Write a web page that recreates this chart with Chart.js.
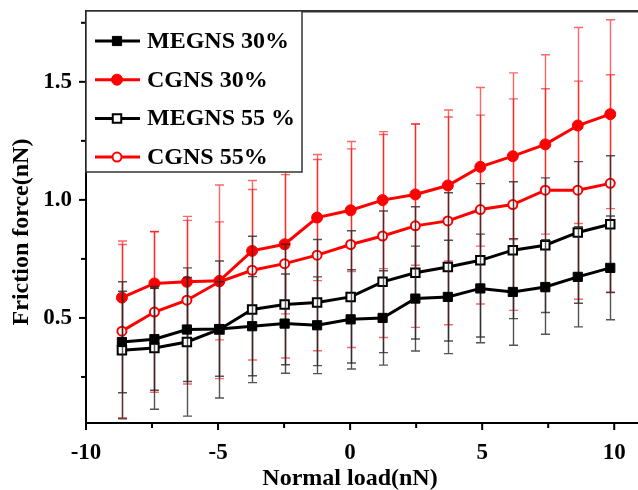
<!DOCTYPE html>
<html>
<head>
<meta charset="utf-8">
<script src="https://cdn.jsdelivr.net/npm/chart.js@4.4.0/dist/chart.umd.min.js"></script>
<style>
  html, body { margin: 0; padding: 0; background: #fff; }
</style>
</head>
<body>
<canvas id="frictionChart" width="638" height="490"></canvas>
<script>
// Normal load (nN) at each measurement
const loads = [-8.64, -7.41, -6.18, -4.95, -3.71, -2.48, -1.25, 0.02, 1.23, 2.47, 3.70, 4.93, 6.16, 7.39, 8.62, 9.85];

// Friction force (nN) and standard deviations
const megns30 = [0.398, 0.410, 0.451, 0.453, 0.465, 0.476, 0.469, 0.494, 0.500, 0.582, 0.589, 0.625, 0.610, 0.631, 0.674, 0.712];
const megns30Err = [0.215, 0.216, 0.220, 0.200, 0.210, 0.210, 0.205, 0.210, 0.200, 0.222, 0.240, 0.230, 0.226, 0.200, 0.212, 0.220];

const cgns30 = [0.586, 0.646, 0.653, 0.657, 0.784, 0.812, 0.925, 0.956, 0.999, 1.023, 1.061, 1.140, 1.185, 1.235, 1.315, 1.363];
const cgns30Err = [0.240, 0.220, 0.260, 0.250, 0.260, 0.295, 0.267, 0.260, 0.290, 0.300, 0.320, 0.336, 0.353, 0.380, 0.415, 0.400];

const megns55 = [0.363, 0.373, 0.398, 0.451, 0.536, 0.557, 0.565, 0.589, 0.653, 0.691, 0.716, 0.744, 0.787, 0.808, 0.862, 0.897];
const megns55Err = [0.290, 0.260, 0.314, 0.290, 0.310, 0.255, 0.267, 0.280, 0.300, 0.280, 0.314, 0.325, 0.290, 0.285, 0.300, 0.290];

const cgns55 = [0.444, 0.525, 0.575, 0.653, 0.702, 0.730, 0.766, 0.811, 0.847, 0.890, 0.911, 0.959, 0.980, 1.041, 1.041, 1.070];
const cgns55Err = [0.367, 0.340, 0.355, 0.410, 0.380, 0.400, 0.405, 0.436, 0.430, 0.430, 0.440, 0.400, 0.448, 0.430, 0.462, 0.460];

const xTicks = [-10, -7.5, -5, -2.5, 0, 2.5, 5, 7.5, 10];
const yTicks = [0.25, 0.5, 0.75, 1.0, 1.25, 1.5, 1.75];

const FONT = "'Liberation Serif', 'Times New Roman', serif";
const RED = '#ff0000';

function pts(ys) {
    return ys.map((y, i) => ({ x: loads[i], y: y }));
}

// vertical error bars with caps, drawn just before each dataset
const errorBars = {
    id: 'errorBars',
    beforeDatasetDraw(chart, args) {
        const ds = chart.data.datasets[args.index];
        if (!ds.errors) return;
        const ctx = chart.ctx;
        const xs = chart.scales.x, ys = chart.scales.y;
        ctx.save();
        ctx.strokeStyle = ds.errorColor;
        ctx.lineWidth = 1.4;
        ds.data.forEach((p, i) => {
            const px = Math.round(xs.getPixelForValue(p.x)) + 0.5;
            const top = ys.getPixelForValue(p.y + ds.errors[i]);
            const bot = ys.getPixelForValue(p.y - ds.errors[i]);
            ctx.beginPath();
            ctx.moveTo(px, top); ctx.lineTo(px, bot);
            ctx.moveTo(px - 4.5, top); ctx.lineTo(px + 4.5, top);
            ctx.moveTo(px - 4.5, bot); ctx.lineTo(px + 4.5, bot);
            ctx.stroke();
        });
        ctx.restore();
    }
};

// tick marks, frame line, axis titles and the boxed legend
const decorations = {
    id: 'decorations',
    afterDraw(chart) {
        const ctx = chart.ctx;
        const area = chart.chartArea;
        const xs = chart.scales.x, ys = chart.scales.y;
        ctx.save();

        ctx.strokeStyle = '#000';
        ctx.lineWidth = 2;
        xs.ticks.forEach(t => {
            const px = xs.getPixelForValue(t.value);
            const len = t.value % 5 === 0 ? 7 : 5;
            ctx.beginPath();
            ctx.moveTo(px, area.bottom);
            ctx.lineTo(px, area.bottom + len);
            ctx.stroke();
        });
        ys.ticks.forEach(t => {
            const py = ys.getPixelForValue(t.value);
            const len = Math.abs(t.value * 2 - Math.round(t.value * 2)) < 1e-6 ? 7 : 5;
            ctx.beginPath();
            ctx.moveTo(area.left - len, py);
            ctx.lineTo(area.left, py);
            ctx.stroke();
        });

        // top frame
        ctx.fillStyle = '#333';
        ctx.fillRect(area.left, area.top - 1, chart.width - area.left, 2.5);

        // axis titles
        ctx.fillStyle = '#000';
        ctx.font = 'bold 24px ' + FONT;
        ctx.textAlign = 'center';
        ctx.textBaseline = 'alphabetic';
        ctx.fillText('Normal load(nN)', 350, 485);
        ctx.save();
        ctx.translate(28, 232);
        ctx.rotate(-Math.PI / 2);
        ctx.fillText('Friction force(nN)', 0, 0);
        ctx.restore();

        // legend
        const box = { x: 86, y: 11, w: 216, h: 161 };
        ctx.fillStyle = '#fff';
        ctx.fillRect(box.x, box.y, box.w, box.h);
        ctx.strokeStyle = '#333';
        ctx.lineWidth = 1.5;
        ctx.strokeRect(box.x, box.y, box.w, box.h);

        ctx.font = 'bold 24px ' + FONT;
        ctx.textAlign = 'left';
        chart.data.datasets.forEach((ds, i) => {
            const cy = 41 + i * 38.7;
            ctx.strokeStyle = ds.borderColor;
            ctx.lineWidth = 3;
            ctx.beginPath();
            ctx.moveTo(95, cy);
            ctx.lineTo(140, cy);
            ctx.stroke();
            ctx.fillStyle = ds.pointBackgroundColor;
            ctx.strokeStyle = ds.pointBorderColor;
            ctx.lineWidth = ds.pointBorderWidth;
            Chart.helpers.drawPoint(ctx, {
                pointStyle: ds.pointStyle,
                rotation: 0,
                radius: ds.pointRadius,
                borderWidth: ds.pointBorderWidth
            }, 117, cy);
            ctx.fillStyle = '#000';
            ctx.fillText(ds.label, 147, cy + 7);
        });
        ctx.restore();
    }
};

// fixed axis sizes, no extra room reserved for overhanging labels
function fitX(scale) {
    scale.height = 67;
    scale.paddingLeft = 0;
    scale.paddingRight = 0;
}
function fitY(scale) {
    scale.width = 86;
    scale.paddingTop = 0;
    scale.paddingBottom = 0;
}

new Chart(document.getElementById('frictionChart'), {
    type: 'line',
    data: {
        datasets: [
            {
                label: 'MEGNS 30%',
                data: pts(megns30),
                errors: megns30Err,
                errorColor: 'rgba(40, 40, 40, 0.8)',
                borderColor: '#000',
                borderWidth: 3,
                pointStyle: 'rect',
                pointRadius: 6.5,
                pointBackgroundColor: '#000',
                pointBorderColor: '#000',
                pointBorderWidth: 1,
                order: 1
            },
            {
                label: 'CGNS 30%',
                data: pts(cgns30),
                errors: cgns30Err,
                errorColor: 'rgba(255, 0, 0, 0.6)',
                borderColor: RED,
                borderWidth: 3,
                pointStyle: 'circle',
                pointRadius: 5.5,
                pointBackgroundColor: RED,
                pointBorderColor: RED,
                pointBorderWidth: 1,
                order: 2
            },
            {
                label: 'MEGNS 55 %',
                data: pts(megns55),
                errors: megns55Err,
                errorColor: 'rgba(40, 40, 40, 0.8)',
                borderColor: '#000',
                borderWidth: 3,
                pointStyle: 'rect',
                pointRadius: 6,
                pointBackgroundColor: '#fff',
                pointBorderColor: '#000',
                pointBorderWidth: 2,
                order: 1
            },
            {
                label: 'CGNS 55%',
                data: pts(cgns55),
                errors: cgns55Err,
                errorColor: 'rgba(255, 0, 0, 0.6)',
                borderColor: RED,
                borderWidth: 3,
                pointStyle: 'circle',
                pointRadius: 4.5,
                pointBackgroundColor: '#fff',
                pointBorderColor: RED,
                pointBorderWidth: 2,
                order: 2
            }
        ]
    },
    options: {
        responsive: false,
        animation: false,
        devicePixelRatio: 1,
        layout: { autoPadding: false, padding: { top: 11, right: 0, left: 0, bottom: 0 } },
        plugins: {
            legend: { display: false },
            tooltip: { enabled: false }
        },
        scales: {
            x: {
                type: 'linear',
                min: -10,
                max: 10.9,
                afterBuildTicks: scale => { scale.ticks = xTicks.map(v => ({ value: v })); },
                afterFit: fitX,
                grid: { display: false, drawTicks: false },
                border: { display: true, color: '#000', width: 2 },
                ticks: {
                    autoSkip: false,
                    maxRotation: 0,
                    padding: 16,
                    color: '#000',
                    font: { family: FONT, size: 23, weight: 'bold' },
                    callback: v => (v % 5 === 0 ? String(v) : '')
                }
            },
            y: {
                min: 0.055,
                max: 1.8,
                afterBuildTicks: scale => { scale.ticks = yTicks.map(v => ({ value: v })); },
                afterFit: fitY,
                grid: { display: false, drawTicks: false },
                border: { display: true, color: '#000', width: 2 },
                ticks: {
                    autoSkip: false,
                    padding: 14,
                    color: '#000',
                    font: { family: FONT, size: 23, weight: 'bold' },
                    callback: v => (Math.abs(v * 2 - Math.round(v * 2)) < 1e-6 ? v.toFixed(1) : '')
                }
            }
        }
    },
    plugins: [errorBars, decorations]
});
</script>
</body>
</html>
